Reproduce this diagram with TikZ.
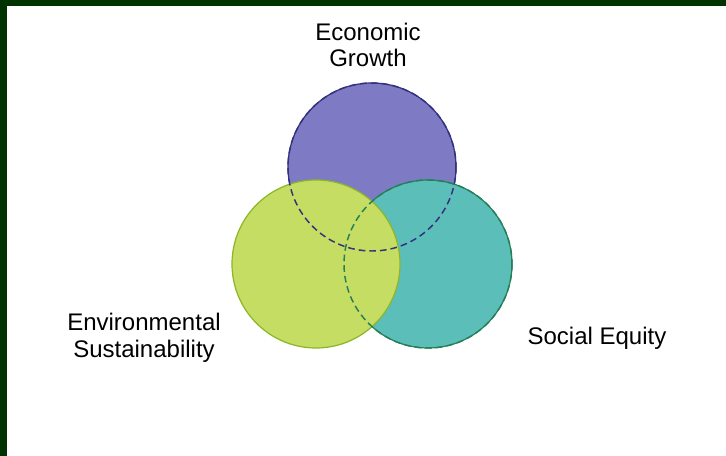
\documentclass[tikz,border=0pt]{standalone}
\usepackage{fontspec}
\setmainfont{Liberation Sans}

\definecolor{framegreen}{HTML}{003300}
\definecolor{growthfill}{HTML}{7E7BC4}
\definecolor{growthline}{HTML}{34327E}
\definecolor{socialfill}{HTML}{5CBEB9}
\definecolor{socialline}{HTML}{25805A}
\definecolor{envfill}{HTML}{C4DD62}
\definecolor{envline}{HTML}{8DB52A}

\tikzset{
  label/.style={font=\fontsize{18}{20}\selectfont, align=center, inner sep=0pt},
  ring/.style={line width=0.9pt},
  hidden/.style={line width=1.1pt, dash pattern=on 5pt off 3pt}
}

\begin{document}
\begin{tikzpicture}[x=0.75pt, y=-0.75pt]
    \useasboundingbox (0,0) rectangle (726,456);
    \fill[white] (0,0) rectangle (726,456);

    % slide frame
    \fill[framegreen] (0,0) rectangle (726,6);
    \fill[framegreen] (0,0) rectangle (7,456);

    % circles, back to front
    \fill[growthfill] (372,167) circle[radius=84];
    \draw[ring, growthline] (372,167) circle[radius=84];
    \fill[socialfill] (428,264) circle[radius=84];
    \draw[ring, socialline] (428,264) circle[radius=84];
    \fill[envfill] (316,264) circle[radius=84];
    \draw[ring, envline] (316,264) circle[radius=84];

    % hidden edges shown dashed
    \draw[hidden, growthline] (372,167) circle[radius=84];
    \draw[hidden, socialline] (428,264) circle[radius=84];

    % labels
    \node[label] (growth) at (368,45) {Economic\\Growth};
    \node[label] (environment) at (144,338) {Environmental\\Sustainability};
    \node[label, anchor=base] (equity) at (597,345) {Social Equity};
\end{tikzpicture}
\end{document}
